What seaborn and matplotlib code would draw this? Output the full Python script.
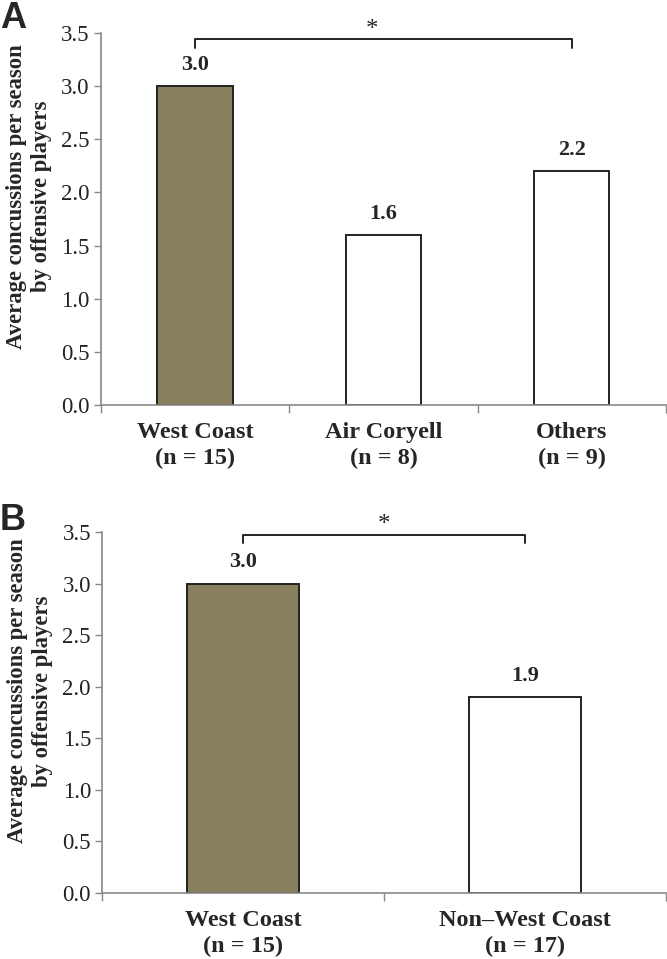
import numpy as np
import pandas as pd
import seaborn as sns
import matplotlib.pyplot as plt
from matplotlib.ticker import FixedLocator

# data
groups_a = ['West Coast\n(n = 15)', 'Air Coryell\n(n = 8)', 'Others\n(n = 9)']
values_a = [3.0, 1.6, 2.2]
groups_b = ['West Coast\n(n = 15)', 'Non\u2013West Coast\n(n = 17)']
values_b = [3.0, 1.9]
yticks = [0.0, 0.5, 1.0, 1.5, 2.0, 2.5, 3.0, 3.5]
ylabel = 'Average concussions per season\nby offensive players'

olive = '#8f8555'
serif = ['Liberation Serif', 'DejaVu Serif']

sns.set_style('white')
plt.rcParams['font.family'] = serif

fig = plt.figure(figsize=(6.67, 9.59), dpi=100)
ax_a = fig.add_axes([0.1514, 0.5777, 0.847, 0.3879])
ax_b = fig.add_axes([0.1530, 0.0688, 0.8455, 0.3765])


def draw_panel(ax, groups, values, bracket, star, letter, letter_y):
    df = pd.DataFrame({'group': groups, 'value': values})
    colors = [olive] + ['white'] * (len(groups) - 1)
    sns.barplot(data=df, x='group', y='value', hue='group', palette=colors,
                legend=False, width=0.4, edgecolor='#222222', linewidth=1.4,
                ax=ax)

    n = len(groups)
    ax.set_xlim(-0.5, n - 0.5)
    ax.set_ylim(0, 3.5)
    ax.set_yticks(yticks)
    ax.set_yticklabels([f'{t:.1f}' for t in yticks], fontsize=16.5, color='#222222')
    ax.tick_params(axis='y', direction='out', length=5, width=1, color='#888888',
                   left=True, pad=3)

    # category labels with Excel-style boundary ticks
    ax.set_xticks(range(n))
    ax.set_xticklabels(groups, fontsize=17.5, fontweight='bold', linespacing=1.3)
    ax.tick_params(axis='x', which='major', length=0, pad=12)
    ax.xaxis.set_minor_locator(FixedLocator(np.arange(-0.5, n, 1.0)))
    ax.tick_params(axis='x', which='minor', direction='out', length=6, width=1,
                   color='#888888', bottom=True)

    for side in ['top', 'right']:
        ax.spines[side].set_visible(False)
    for side in ['left', 'bottom']:
        ax.spines[side].set_color('#888888')
        ax.spines[side].set_linewidth(1.2)

    ax.set_xlabel('')
    ax.set_ylabel(ylabel, fontsize=16.3, fontweight='bold', linespacing=1.25)
    ax.yaxis.set_label_coords(-0.087, 0.56)

    for i, v in enumerate(values):
        ax.annotate(f'{v:.1f}', (i, v), xytext=(0, 8), textcoords='offset points',
                    ha='center', va='bottom', fontsize=16, fontweight='bold')

    x0, x1, y_top, y_hook = bracket
    ax.plot([x0, x0, x1, x1], [y_hook, y_top, y_top, y_hook], color='#222222',
            lw=1.4, clip_on=False, solid_joinstyle='round')
    ax.text(star[0], star[1], '*', ha='center', va='center', fontsize=18,
            clip_on=False)

    fig.text(0.0, letter_y, letter, fontsize=26, fontweight='bold',
             family=['Liberation Sans', 'DejaVu Sans'], ha='left', va='top')


draw_panel(ax_a, groups_a, values_a, (0, 2, 3.44, 3.36), (0.94, 3.53), 'A', 0.999)
draw_panel(ax_b, groups_b, values_b, (0, 1, 3.47, 3.39), (0.50, 3.57), 'B', 0.475)

fig.savefig('out.png', dpi=100)
